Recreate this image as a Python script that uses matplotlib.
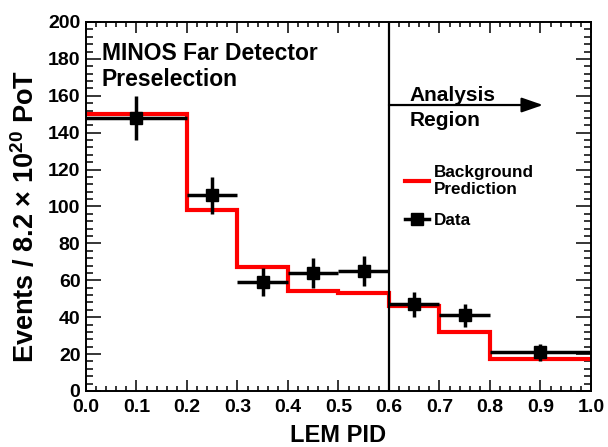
import matplotlib
matplotlib.use('Agg')
import matplotlib.pyplot as plt
from matplotlib.lines import Line2D
from matplotlib.ticker import MultipleLocator, FormatStrFormatter

plt.rcParams['font.family'] = ['Liberation Sans', 'DejaVu Sans']
plt.rcParams['font.weight'] = 'bold'
plt.rcParams['mathtext.fontset'] = 'custom'
plt.rcParams['mathtext.rm'] = 'Liberation Sans:bold'
plt.rcParams['mathtext.bf'] = 'Liberation Sans:bold'
plt.rcParams['mathtext.it'] = 'Liberation Sans:bold'

# background prediction histogram
bin_edges = [0.0, 0.2, 0.3, 0.4, 0.5, 0.6, 0.7, 0.8, 1.0]
bkg_pred = [150, 98, 67, 54, 53, 46, 32, 17.5]

# data points
data_x = [0.1, 0.25, 0.35, 0.45, 0.55, 0.65, 0.75, 0.9]
data_y = [148, 106, 59, 64, 65, 47, 41, 21]
data_yerr = [12, 10, 7.5, 8, 8, 6.8, 6.2, 4.5]
data_xerr = [0.1, 0.05, 0.05, 0.05, 0.05, 0.05, 0.05, 0.1]

cut_value = 0.6

fig = plt.figure(figsize=(6.08, 4.47), dpi=100)
ax = fig.add_axes([0.1414, 0.1253, 0.8306, 0.8255])

ax.stairs(bkg_pred, bin_edges, color='red', lw=3.0, baseline=None, zorder=2)
ax.errorbar(data_x, data_y, xerr=data_xerr, yerr=data_yerr, fmt='s',
            color='black', ms=8.5, elinewidth=2.5, capsize=0, zorder=3)

ax.axvline(cut_value, color='black', lw=1.6, zorder=4)
ax.annotate('', xy=(0.905, 155), xytext=(cut_value, 155),
            arrowprops=dict(arrowstyle='-|>,head_length=1.3,head_width=0.45',
                            color='black', lw=1.6, shrinkA=0, shrinkB=0))
ax.text(0.6416, 165.5, 'Analysis\nRegion', fontsize=15, fontweight='bold',
        ha='left', va='top', linespacing=1.4)
ax.text(0.0317, 189, 'MINOS Far Detector\nPreselection', fontsize=16.5,
        fontweight='bold', ha='left', va='top', linespacing=1.17)

handles = [Line2D([], [], color='red', lw=3.0),
           Line2D([], [], color='black', lw=2.5, marker='s', ms=8.5)]
ax.legend(handles, ['Background\nPrediction', 'Data'], loc='upper left',
          bbox_to_anchor=(0.6006, 0.654), frameon=False, fontsize=12.3,
          handlelength=1.4, handletextpad=0.3, labelspacing=0.9)

ax.set_xlim(0, 1.0)
ax.set_ylim(0, 200)
ax.xaxis.set_major_locator(MultipleLocator(0.1))
ax.xaxis.set_minor_locator(MultipleLocator(0.02))
ax.yaxis.set_major_locator(MultipleLocator(20))
ax.yaxis.set_minor_locator(MultipleLocator(4))
ax.xaxis.set_major_formatter(FormatStrFormatter('%.1f'))
ax.tick_params(which='both', direction='in', top=True, right=True,
               labelsize=14, width=1.1)
ax.tick_params(axis='x', which='major', length=8, pad=6)
ax.tick_params(axis='x', which='minor', length=3.6)
ax.tick_params(axis='y', which='major', length=10.8, pad=4)
ax.tick_params(axis='y', which='minor', length=5)
for spine in ax.spines.values():
    spine.set_linewidth(1.4)

ax.set_xlabel('LEM PID', fontsize=17, fontweight='bold', labelpad=5.5)
ax.set_ylabel(r'Events / 8.2 $\times$ 10$^{20}$ PoT', fontsize=19.5,
              fontweight='bold')
ax.yaxis.set_label_coords(-0.0915, 0.474)

fig.savefig('out.png', dpi=100)
